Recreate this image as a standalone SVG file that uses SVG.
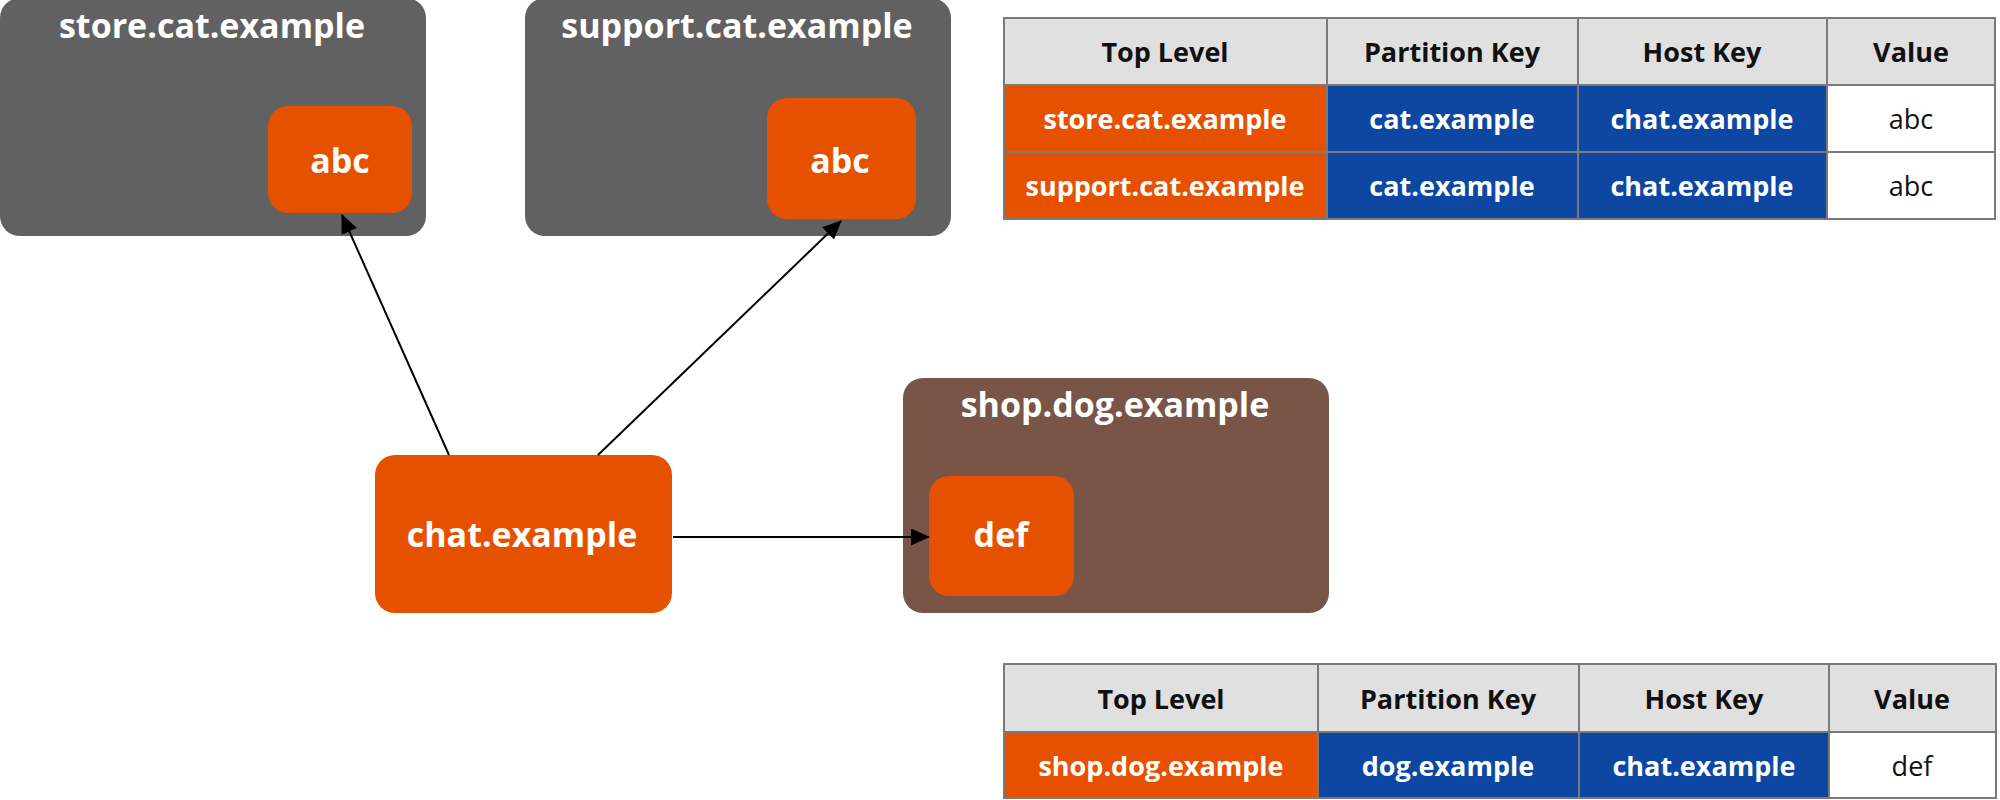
<svg xmlns="http://www.w3.org/2000/svg" width="2000" height="800" viewBox="0 0 2000 800">
<style>
.gray{fill:#616161}
.orange{fill:#e65100}
.brown{fill:#795548}
.blue{fill:#0d47a1}
.hdr{fill:#e0e0e0}
.white{fill:#ffffff}
.cell{stroke:#7a7a7a;stroke-width:2}
.t{font-family:"Open Sans","Noto Sans","DejaVu Sans",sans-serif;font-weight:bold;fill:#ffffff;text-anchor:middle;dominant-baseline:central}
.big{font-size:34px}
.tb{font-size:27px}
.dark{fill:#111111}
.reg{font-weight:normal}
.edge{stroke:#000;stroke-width:2;fill:none;marker-end:url(#arr)}
</style>
<defs>
<marker id="arr" markerUnits="userSpaceOnUse" markerWidth="19" markerHeight="17" refX="18" refY="8.5" orient="auto">
<path d="M0,0 L19,8.5 L0,17 z" fill="#000"/>
</marker>
</defs>
<g id="store">
<rect class="gray" x="0" y="-2" width="426" height="238" rx="20"/>
<text class="t big" x="212" y="25">store.cat.example</text>
</g>
<g id="store-abc">
<rect class="orange" x="268" y="106" width="144" height="107" rx="20"/>
<text class="t big" x="340" y="160">abc</text>
</g>
<g id="support">
<rect class="gray" x="525" y="-2" width="426" height="238" rx="20"/>
<text class="t big" x="737" y="25">support.cat.example</text>
</g>
<g id="support-abc">
<rect class="orange" x="767" y="98" width="149" height="121" rx="20"/>
<text class="t big" x="840" y="160">abc</text>
</g>
<g id="chat">
<rect class="orange" x="375" y="455" width="297" height="158" rx="20"/>
<text class="t big" x="522" y="534">chat.example</text>
</g>
<g id="shop">
<rect class="brown" x="903" y="378" width="426" height="235" rx="20"/>
<text class="t big" x="1115" y="404">shop.dog.example</text>
</g>
<g id="shop-def">
<rect class="orange" x="929" y="476" width="145" height="120" rx="20"/>
<text class="t big" x="1001" y="534">def</text>
</g>
<g id="connectors">
<line class="edge" x1="449" y1="455" x2="342" y2="215"/>
<line class="edge" x1="598" y1="455" x2="841" y2="221"/>
<line class="edge" x1="673" y1="537" x2="929" y2="537"/>
</g>
<g id="table-cat">
<rect class="hdr cell" x="1004" y="18" width="323" height="67"/>
<rect class="hdr cell" x="1327" y="18" width="251" height="67"/>
<rect class="hdr cell" x="1578" y="18" width="249" height="67"/>
<rect class="hdr cell" x="1827" y="18" width="168" height="67"/>
<rect class="orange cell" x="1004" y="85" width="323" height="67"/>
<rect class="blue cell" x="1327" y="85" width="251" height="67"/>
<rect class="blue cell" x="1578" y="85" width="249" height="67"/>
<rect class="white cell" x="1827" y="85" width="168" height="67"/>
<rect class="orange cell" x="1004" y="152" width="323" height="67"/>
<rect class="blue cell" x="1327" y="152" width="251" height="67"/>
<rect class="blue cell" x="1578" y="152" width="249" height="67"/>
<rect class="white cell" x="1827" y="152" width="168" height="67"/>
<text class="t tb dark" x="1165" y="51">Top Level</text>
<text class="t tb dark" x="1452" y="51">Partition Key</text>
<text class="t tb dark" x="1702" y="51">Host Key</text>
<text class="t tb dark" x="1911" y="51">Value</text>
<text class="t tb" x="1165" y="118">store.cat.example</text>
<text class="t tb" x="1452" y="118">cat.example</text>
<text class="t tb" x="1702" y="118">chat.example</text>
<text class="t tb dark reg" x="1911" y="118">abc</text>
<text class="t tb" x="1165" y="185">support.cat.example</text>
<text class="t tb" x="1452" y="185">cat.example</text>
<text class="t tb" x="1702" y="185">chat.example</text>
<text class="t tb dark reg" x="1911" y="185">abc</text>
</g>
<g id="table-dog">
<rect class="hdr cell" x="1004" y="664" width="314" height="68"/>
<rect class="hdr cell" x="1318" y="664" width="261" height="68"/>
<rect class="hdr cell" x="1579" y="664" width="250" height="68"/>
<rect class="hdr cell" x="1829" y="664" width="167" height="68"/>
<rect class="orange cell" x="1004" y="732" width="314" height="66"/>
<rect class="blue cell" x="1318" y="732" width="261" height="66"/>
<rect class="blue cell" x="1579" y="732" width="250" height="66"/>
<rect class="white cell" x="1829" y="732" width="167" height="66"/>
<text class="t tb dark" x="1161" y="698">Top Level</text>
<text class="t tb dark" x="1448" y="698">Partition Key</text>
<text class="t tb dark" x="1704" y="698">Host Key</text>
<text class="t tb dark" x="1912" y="698">Value</text>
<text class="t tb" x="1161" y="765">shop.dog.example</text>
<text class="t tb" x="1448" y="765">dog.example</text>
<text class="t tb" x="1704" y="765">chat.example</text>
<text class="t tb dark reg" x="1912" y="765">def</text>
</g>
</svg>
